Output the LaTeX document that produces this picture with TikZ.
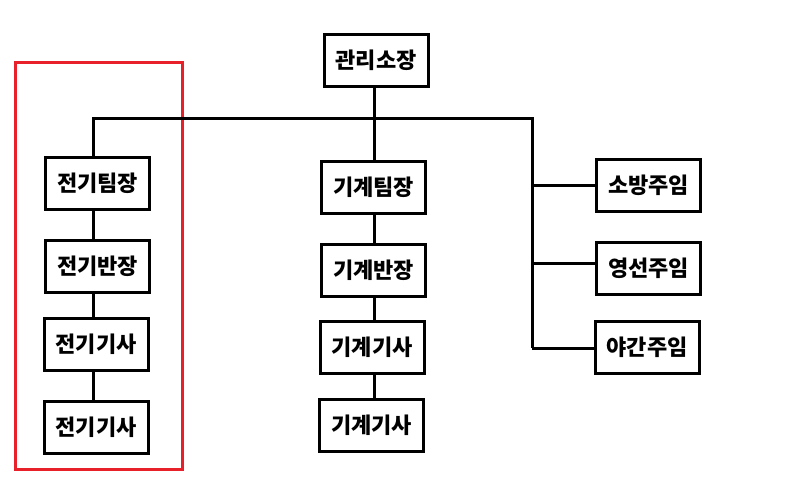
\documentclass[tikz,border=0pt]{standalone}
\usepackage{fontspec}
\setmainfont{Noto Sans CJK KR}
\usetikzlibrary{calc}
\definecolor{hl}{RGB}{232,32,42}
\begin{document}
\begin{tikzpicture}[x=0.75pt,y=-0.75pt,
  box/.style={draw=black,line width=2.25pt,fill=white,minimum width=78pt,minimum height=39pt,inner sep=0pt,font=\fontsize{16.5}{19}\selectfont\bfseries},
  link/.style={draw=black,line width=2.25pt},
  frame/.style={draw=hl,line width=2.25pt}]
\useasboundingbox[fill=white] (0,0) rectangle (800,482);
\draw[frame] (15.5,62.5) rectangle (182.5,469.5);
\coordinate (busL) at (93,118);
\coordinate (busC) at (374,118);
\coordinate (busR) at (532,118);
\node[box] (top) at (376,60.5) {관리소장};
\node[box] (e1) at (97.5,183.5) {전기팀장};
\node[box] (e2) at (97.5,266.5) {전기반장};
\node[box] (e3) at (96,344.5) {전기기사};
\node[box] (e4) at (96,427.5) {전기기사};
\node[box] (m1) at (373.5,187) {기계팀장};
\node[box] (m2) at (373.5,270) {기계반장};
\node[box] (m3) at (372,347.5) {기계기사};
\node[box] (m4) at (371.5,425) {기계기사};
\node[box] (r1) at (648.5,185.5) {소방주임};
\node[box] (r2) at (648.5,268.5) {영선주임};
\node[box] (r3) at (647,347) {야간주임};
\coordinate (j1) at (532,185);
\coordinate (j2) at (532,263);
\coordinate (j3) at (532,348);
% main bus
\draw[link] (top.south -| busC) -- (m1.north -| busC);
\draw[link] (busL |- e1.north) -- (busL) -- (busR) -- (j3);
% electrical column
\draw[link] (e1.south -| busL) -- (e2.north -| busL);
\draw[link] (e2.south -| busL) -- (e3.north -| busL);
\draw[link] (e3.south -| busL) -- (e4.north -| busL);
% mechanical column
\draw[link] (m1.south -| busC) -- (m2.north -| busC);
\draw[link] (m2.south -| busC) -- (m3.north -| busC);
\draw[link] (m3.south -| busC) -- (m4.north -| busC);
% right branches
\draw[link] (j1) -- (j1 -| r1.west);
\draw[link] (j2) -- (j2 -| r2.west);
\draw[link] (j3) -- (j3 -| r3.west);
\end{tikzpicture}
\end{document}
